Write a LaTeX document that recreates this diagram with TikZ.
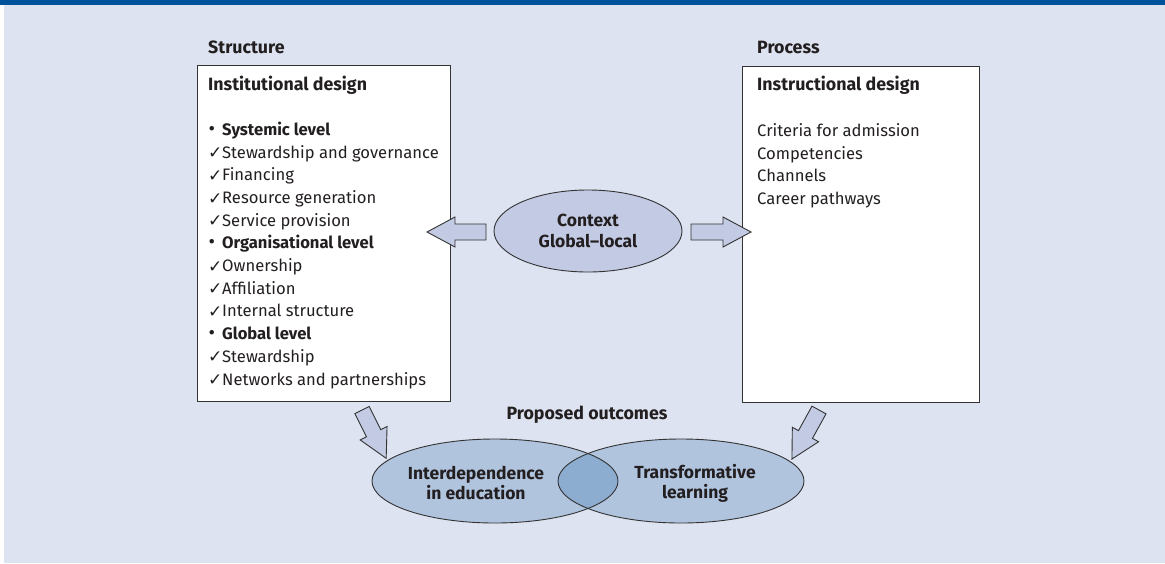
\documentclass[tikz,border=0pt]{standalone}
\usepackage{fontspec}
\setmainfont{Fira Sans}
\newfontfamily\symfont{DejaVu Sans}
\usetikzlibrary{shapes.geometric}
\definecolor{bg}{HTML}{DDE3F0}
\definecolor{topbar}{HTML}{00529B}
\definecolor{arrowfill}{HTML}{C3CBE4}
\definecolor{ctxfill}{HTML}{C3CAE4}
\definecolor{outfill}{HTML}{B0C4DE}
\definecolor{overlapfill}{HTML}{8DADD0}
\definecolor{ink}{HTML}{231F20}
\definecolor{edgecol}{HTML}{333333}
\newcommand\chk{\makebox[14pt][l]{\raisebox{-0.5pt}{\symfont\bfseries\fontsize{17}{18}\selectfont ✓}}}
\newcommand\bul{\makebox[14pt][l]{\hspace{0.5pt}\scalebox{1.2}{•}}}
\tikzset{
  boxstyle/.style={draw=edgecol, line width=1.3pt, fill=white, anchor=north west, inner sep=0pt},
  headtxt/.style={anchor=base west, inner sep=0pt, text=ink, font=\fontsize{17.8}{20}\selectfont\bfseries},
  listtxt/.style={anchor=base west, inner sep=0pt, text=ink, font=\fontsize{16.6}{19}\selectfont},
  blockarrow/.style={draw=edgecol, line width=0.9pt, fill=arrowfill, line join=miter},
  pics/barrow/.style={code={
    \draw[blockarrow] (0,-8) -- ({#1-28},-8) -- ({#1-28},-15) -- (#1,0) -- ({#1-28},15) -- ({#1-28},8) -- (0,8) -- cycle;}},
  ctxell/.style={ellipse, draw=edgecol, line width=0.9pt, fill=ctxfill, minimum width=188pt, minimum height=82pt, inner sep=0pt, align=center, text=ink, font=\fontsize{17.5}{21}\selectfont\bfseries},
  outline/.style={ellipse, draw=edgecol, line width=0.9pt, minimum width=246pt, minimum height=84pt, inner sep=0pt},
  outtxt/.style={align=center, inner sep=0pt, text=ink, font=\fontsize{17.5}{20}\selectfont\bfseries},
}
\begin{document}
\begin{tikzpicture}[x=1pt,y=-1pt]
\useasboundingbox (0,0) rectangle (1165,563);
\fill[white] (0,0) rectangle (1165,563);
\fill[bg] (4,5) rectangle (1165,563);
\fill[topbar] (0,0) rectangle (1165,5);

% labels above boxes
\node[headtxt] (structlbl) at (208,53) {Structure};
\node[headtxt] (proclbl) at (757,53) {Process};

% boxes
\node[boxstyle, minimum width=253pt, minimum height=336pt] (sbox) at (197,65) {};
\node[boxstyle, minimum width=237pt, minimum height=336pt] (pbox) at (742,66) {};

% left box text
\node[headtxt] (insttitle) at (208,90) {Institutional design};
\node[listtxt] (l1) at (208,135.5) {\bul\textbf{Systemic level}};
\node[listtxt] (l2) at (208,158.2) {\chk Stewardship and governance};
\node[listtxt] (l3) at (208,180.9) {\chk Financing};
\node[listtxt] (l4) at (208,203.5) {\chk Resource generation};
\node[listtxt] (l5) at (208,226.2) {\chk Service provision};
\node[listtxt] (l6) at (208,248.9) {\bul\textbf{Organisational level}};
\node[listtxt] (l7) at (208,271.6) {\chk Ownership};
\node[listtxt] (l8) at (208,294.3) {\chk Affiliation};
\node[listtxt] (l9) at (208,316.9) {\chk Internal structure};
\node[listtxt] (l10) at (208,339.6) {\bul\textbf{Global level}};
\node[listtxt] (l11) at (208,362.3) {\chk Stewardship};
\node[listtxt] (l12) at (208,385) {\chk Networks and partnerships};

% right box text
\node[headtxt] (instrtitle) at (757,90) {Instructional design};
\node[listtxt] (r1) at (757,136.5) {Criteria for admission};
\node[listtxt] (r2) at (757,159.2) {Competencies};
\node[listtxt] (r3) at (757,181.9) {Channels};
\node[listtxt] (r4) at (757,204.5) {Career pathways};

% context ellipse and arrows
\node[ctxell] (ctx) at (588,231) {Context\\Global–local};
\pic[rotate=180] (larrow) at (486,232) {barrow=59};
\pic (rarrow) at (691,232) {barrow=60};

% proposed outcomes
\node[headtxt, anchor=base] (outlbl) at (587,419) {Proposed outcomes};
\fill[outfill] (495,481) ellipse [x radius=123, y radius=42];
\fill[outfill] (681,481) ellipse [x radius=123, y radius=42];
\begin{scope}
  \clip (495,481) ellipse [x radius=123, y radius=42];
  \fill[overlapfill] (681,481) ellipse [x radius=123, y radius=42];
\end{scope}
\node[outline] (interdep) at (495,481) {};
\node[outline] (transf) at (681,481) {};
\node[outtxt] (interlbl) at (476,483) {Interdependence\\in education};
\node[outtxt] (translbl) at (695,483) {Transformative\\learning};

% down arrows
\pic[rotate=-63.4] (darrowl) at (362,410) {barrow=54};
\pic[rotate=-118.9] (darrowr) at (819,410) {barrow=56};
\end{tikzpicture}
\end{document}
